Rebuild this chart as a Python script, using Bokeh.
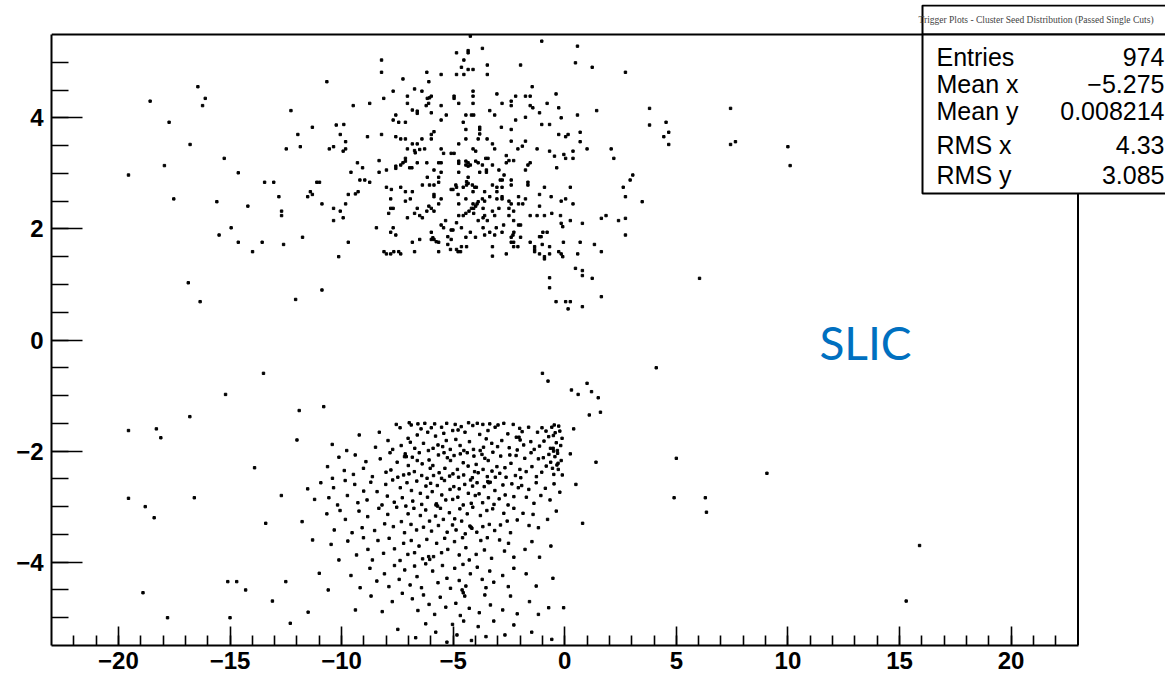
from bokeh.plotting import figure
from bokeh.models import FixedTicker, Label, BoxAnnotation, Range1d
from bokeh.embed import file_html
from bokeh.resources import INLINE

# ---- data (upper cluster) ----
top_pts = [
(-8.21,5.04),(-8.21,4.82),(-6.18,4.82),(-5.54,4.78),(-7.25,4.70),(-6.09,4.65),(-7.69,4.48),(-6.73,4.52),(-6.40,4.48),(-9.48,4.22),(-8.74,4.26),(-8.11,4.35),(-7.05,4.39),(-7.05,4.26),(-6.16,4.35),(-6.06,4.36),(-5.98,4.39),(-6.10,4.26),(-6.21,4.22),(-6.83,4.14),(-6.61,4.12),(-6.61,4.08),(-5.98,4.09),(-5.54,4.22),(-5.31,4.05),(-7.57,4.05),(-7.69,3.96),(-7.44,3.92),(-7.14,3.92),(-5.54,3.96),(-9.90,3.88),(-8.84,3.66),(-8.21,3.70),(-7.57,3.66),(-7.35,3.62),(-7.14,3.62),(-6.40,3.62),(-5.98,3.62),(-5.98,3.70),(-5.86,3.75),(-9.82,3.57),(-9.82,3.44),(-9.93,3.40),(-6.83,3.53),(-6.61,3.53),(-7.05,3.44),(-6.73,3.41),(-6.70,3.37),(-6.50,3.43),(-6.28,3.44),(-5.54,3.44),(-5.43,3.36),(-5.09,3.36),(-9.29,3.19),(-9.06,3.10),(-8.32,3.23),(-7.99,3.06),(-8.32,3.02),(-9.58,3.02),(-7.57,3.13),(-7.57,3.09),(-7.35,3.15),(-7.25,3.19),(-7.14,3.27),(-7.14,3.22),(-6.95,3.10),(-6.85,3.10),(-6.61,3.19),(-6.18,3.19),(-5.65,3.19),(-5.54,3.19),(-5.86,3.06),(-5.54,3.02),
(-4.23,5.47),(-1.03,5.38),(-4.85,5.17),(-4.33,5.21),(-4.33,5.17),(-3.69,5.25),(-4.52,5.04),(-4.63,4.91),(-4.33,4.87),(-4.11,4.87),(-3.47,4.95),(-4.85,4.78),(-4.52,4.78),(-3.47,4.78),(-1.98,4.95),(-1.46,4.56),(-4.96,4.39),(-4.96,4.35),(-4.11,4.48),(-4.11,4.39),(-4.75,4.26),(-4.11,4.26),(-3.04,4.43),(-2.20,4.39),(-1.76,4.39),(-1.55,4.39),(-0.39,4.43),(-2.40,4.30),(-2.40,4.22),(-2.81,4.26),(-1.55,4.22),(-1.43,4.18),(-0.79,4.26),(-0.27,4.18),(-3.36,4.13),(-3.14,4.05),(-4.43,4.05),(-4.18,4.05),(-4.08,4.05),(-1.13,4.09),(-1.76,4.01),(-2.20,3.96),(-0.16,4.00),(-4.55,3.92),(-3.81,3.83),(-3.81,3.79),(-3.81,3.71),(-4.43,3.79),(-2.84,3.83),(-2.40,3.79),(-1.03,3.88),(-0.68,3.88),(-0.27,3.70),(-4.43,3.62),(-3.88,3.62),(-3.48,3.62),(-4.75,3.53),(-3.24,3.53),(-2.40,3.58),(-1.76,3.58),(-1.90,3.49),(-2.10,3.44),(-3.14,3.44),(-4.11,3.44),(-3.99,3.40),(-1.24,3.44),(-0.68,3.40),(-4.96,3.36),(-0.46,3.31),(-2.62,3.32),(-3.54,3.27),(-3.44,3.27),(-4.75,3.22),(-4.75,3.18),(-4.43,3.22),(-4.33,3.19),(-4.23,3.15),(-4.43,3.15),(-4.33,3.13),(-3.99,3.22),(-3.88,3.19),(-3.69,3.15),(-3.24,3.15),(-2.62,3.19),(-2.50,3.23),(-2.29,3.23),(-1.55,3.19),(-1.65,3.15),(-1.76,3.06),(-0.36,3.10),(-3.51,3.06),(-3.51,3.02),(-3.81,3.02),(-4.75,3.02),(-2.95,3.06),(-0.04,3.34),
(-9.18,2.88),(-8.96,2.88),(-8.74,2.84),(-7.99,2.75),(-7.77,2.71),(-7.35,2.75),(-7.14,2.67),(-6.83,2.67),(-6.16,2.93),(-5.65,2.93),(-5.65,2.84),(-6.38,2.79),(-6.06,2.79),(-5.86,2.79),(-5.09,2.71),(-5.01,2.71),(-9.70,2.62),(-9.38,2.63),(-9.26,2.67),(-5.86,2.62),(-5.86,2.58),(-5.54,2.54),(-7.80,2.54),(-7.14,2.50),(-6.92,2.54),(-5.65,2.45),(-9.82,2.45),(-7.80,2.37),(-7.69,2.37),(-7.89,2.28),(-6.61,2.37),(-6.09,2.41),(-5.98,2.37),(-6.18,2.32),(-5.86,2.32),(-6.73,2.28),(-6.50,2.24),(-6.38,2.20),(-7.05,2.20),(-9.93,2.20),(-5.34,2.15),(-5.54,2.07),(-5.43,2.02),(-5.09,1.98),(-5.01,1.98),(-8.44,2.02),(-7.69,2.02),(-7.80,1.94),(-7.57,1.89),(-5.98,1.94),(-5.91,1.84),(-5.86,1.81),(-5.76,1.77),(-5.65,1.76),(-5.98,1.81),(-5.24,1.86),(-5.09,1.81),(-5.24,1.72),(-5.12,1.63),(-6.83,1.76),(-6.50,1.81),(-9.70,1.76),(-6.73,1.59),(-5.65,1.59),(-8.10,1.59),(-7.99,1.55),(-7.80,1.55),(-7.66,1.59),(-7.44,1.59),(-7.35,1.55),
(-4.33,2.93),(-2.72,2.97),(-2.89,2.88),(-2.80,2.88),(-2.40,2.88),(-2.40,2.79),(-1.65,2.84),(-1.65,2.79),(-4.88,2.79),(-4.85,2.75),(-4.55,2.75),(-4.40,2.85),(-4.33,2.82),(-4.40,2.79),(-4.14,2.79),(-4.03,2.75),(-3.96,2.75),(-3.24,2.79),(-3.04,2.75),(-2.81,2.75),(-0.91,2.75),(-4.78,2.62),(-4.11,2.67),(-3.59,2.67),(-3.04,2.67),(-1.13,2.62),(-0.61,2.58),(-4.43,2.54),(-3.69,2.54),(-3.59,2.50),(-3.36,2.58),(-3.04,2.54),(-2.81,2.58),(-2.81,2.54),(-2.50,2.50),(-2.40,2.45),(-2.07,2.58),(-1.76,2.54),(-2.07,2.45),(-1.88,2.45),(-0.16,2.50),(-4.75,2.45),(-4.11,2.45),(-3.99,2.41),(-4.18,2.37),(-4.08,2.37),(-3.93,2.45),(-3.88,2.49),(-4.29,2.32),(-4.08,2.28),(-3.66,2.37),(-3.24,2.32),(-2.95,2.37),(-2.50,2.37),(-2.29,2.32),(-1.13,2.41),(-4.75,2.24),(-4.55,2.24),(-4.43,2.28),(-3.59,2.24),(-3.66,2.20),(-3.14,2.24),(-2.50,2.24),(-1.55,2.24),(-1.24,2.24),(-0.91,2.24),(-0.58,2.28),(-0.19,2.24),(-3.88,2.15),(-3.47,2.15),(-2.29,2.15),(-4.85,2.11),(-0.16,2.10),(-2.07,2.07),(-1.98,2.07),(-2.74,2.07),(-4.63,2.02),(-3.66,2.02),(-3.07,2.02),(-0.09,2.04),(-4.23,1.94),(-3.36,1.94),(-2.81,1.94),(-3.59,1.89),(-3.14,1.89),(-2.28,1.94),(-2.32,1.89),(-0.98,1.94),(-0.79,1.94),(-1.06,1.86),(-1.13,1.86),(-4.43,1.85),(-4.00,1.85),(-2.40,1.85),(-1.98,1.85),(-0.06,1.76),(-2.40,1.76),(-2.29,1.76),(-1.55,1.76),(-1.01,1.72),(-4.63,1.68),(-4.40,1.68),(-3.24,1.68),(-2.29,1.68),(-2.10,1.68),(-0.68,1.68),(-1.35,1.68),(-1.35,1.63),(-1.35,1.59),(-0.27,1.59),(-0.16,1.55),(-0.09,1.50),(-4.85,1.63),(-4.78,1.59),(-4.67,1.59),(-1.13,1.55),(-0.91,1.50),(-0.91,1.46),(-0.68,1.55),(-3.24,1.51),(-2.62,1.55),(-0.68,1.12),(-0.68,0.94),(-0.39,0.69),
(-16.44,4.56),(-16.11,4.35),(-16.23,4.22),(-18.58,4.30),(-10.66,4.65),(-17.73,3.92),(-12.27,4.13),(-11.31,3.83),(-10.24,3.87),(-10.06,3.70),(-11.96,3.70),(-11.85,3.48),(-12.48,3.44),(-10.55,3.44),(-10.36,3.48),(-16.79,3.52),(-15.26,3.27),(-17.94,3.14),(-19.55,2.97),(-14.63,3.01),(-13.45,2.84),(-13.04,2.84),(-11.11,2.84),(-10.99,2.84),(-11.40,2.67),(-11.31,2.62),(-11.52,2.58),(-12.81,2.58),(-10.88,2.45),(-10.36,2.37),(-10.06,2.32),(-10.36,2.15),(-12.69,2.32),(-12.69,2.24),(-14.20,2.41),(-15.59,2.49),(-17.52,2.54),(-14.95,2.02),(-15.49,1.89),(-14.63,1.76),(-13.56,1.76),(-12.60,1.72),(-11.75,1.85),(-13.99,1.59),(-10.13,1.50),(-16.87,1.03),(-16.34,0.69),(-12.06,0.73),(-10.88,0.90),
(0.57,5.29),(0.48,4.99),(1.23,4.91),(2.72,4.82),(0.57,4.05),(1.43,4.13),(3.80,4.17),(7.43,4.17),(3.80,3.87),(4.54,3.92),(4.66,3.74),(4.44,3.66),(4.66,3.52),(7.43,3.52),(7.65,3.57),(10.0,3.48),(10.10,3.14),(0.15,3.70),(0.04,3.66),(0.69,3.74),(0.69,3.57),(0.37,3.40),(1.00,3.44),(2.08,3.44),(0.04,3.27),(0.37,3.27),(2.20,3.27),(3.05,2.97),(2.93,2.88),(2.62,2.75),(2.72,2.58),(3.47,2.49),(0.25,2.75),(0.04,2.54),(0.37,2.45),(0.25,2.15),(0.79,2.10),(1.64,2.19),(1.85,2.24),(2.41,2.15),(2.72,2.19),(2.72,1.89),(0.69,1.76),(1.33,1.72),(1.64,1.59),(0.58,1.55),(0.48,1.29),(0.79,1.25),(0.79,1.16),(1.23,1.11),(6.04,1.11),(1.64,0.78),(0.04,0.69),(0.25,0.69),(0.15,0.56),(0.79,0.60),
]

# ---- data (lower cluster, estimated) ----
bot_pts = [
(-10.42,-1.88),(-9.21,-1.71),(-9.77,-1.99),(-8.48,-1.93),(-8.31,-1.66),
(-7.92,-1.81),(-7.71,-1.97),(-7.38,-1.58),(-7.33,-1.9),(-7.02,-1.77),(-7.55,-1.52),
(-6.97,-1.49),(-6.88,-1.53),(-6.61,-1.71),(-6.58,-1.51),(-6.33,-1.86),(-6.27,-1.5),(-6.14,-1.66),(-6.11,-1.99),(-6.72,-1.95),(-6.92,-1.84),(-6.44,-1.6),
(-5.98,-1.58),(-5.83,-1.51),(-5.79,-1.73),(-5.52,-1.57),(-5.47,-1.92),(-5.29,-1.5),(-5.31,-1.81),(-5.02,-1.63),(-5.13,-1.97),(-5.68,-1.89),(-5.42,-1.68),(-5.9,-1.95),
(-4.91,-1.52),(-4.88,-1.79),(-4.64,-1.56),(-4.69,-1.9),(-4.47,-1.66),(-4.31,-1.49),(-4.27,-1.83),(-4.12,-1.54),(-4.09,-1.97),(-4.52,-1.99),(-4.78,-1.62),
(-3.92,-1.5),(-3.81,-1.7),(-3.67,-1.52),(-3.64,-1.93),(-3.44,-1.63),(-3.36,-1.51),(-3.27,-1.86),(-3.12,-1.57),(-3.01,-1.92),(-3.79,-1.99),(-3.52,-1.78),
(-2.99,-1.53),(-2.82,-1.81),(-2.73,-1.5),(-2.55,-1.69),(-2.49,-1.94),(-2.31,-1.52),(-2.17,-1.75),(-2.13,-1.98),(-2.02,-1.59),(-2.05,-1.75),(-2.0,-1.8),
(-1.91,-1.65),(-1.84,-1.89),(-1.62,-1.57),(-1.52,-1.83),(-1.37,-1.97),(-1.22,-1.66),(-1.13,-1.91),(-1.02,-1.58),
(-0.93,-1.82),(-0.84,-1.64),(-0.72,-1.74),(-0.64,-1.95),(-0.51,-1.72),(-0.47,-1.53),(-0.38,-1.85),(-0.33,-1.99),(-0.22,-1.64),(-0.18,-1.9),(-0.12,-1.77),(-0.58,-1.57),(-0.27,-1.55),(-0.43,-1.67),(-0.52,-1.95),(-0.5,-2.0),
(-10.63,-2.28),(-10.41,-2.49),(-10.12,-2.11),(-9.88,-2.35),(-9.47,-2.42),(-9.39,-2.07),(-9.02,-2.31),(-8.91,-2.19),(-8.62,-2.46),(-8.27,-2.14),(-8.01,-2.38),
(-7.83,-2.03),(-7.79,-2.34),(-7.48,-2.47),(-7.51,-2.2),(-7.22,-2.43),(-7.18,-2.1),(-7.01,-2.26),(-7.15,-2.05),(-7.1,-2.1),
(-6.98,-2.41),(-6.83,-2.11),(-6.74,-2.37),(-6.52,-2.03),(-6.41,-2.44),(-6.39,-2.23),(-6.17,-2.49),(-6.08,-2.16),(-6.03,-2.31),(-6.61,-2.17),
(-5.91,-2.26),(-5.88,-2.44),(-5.66,-2.07),(-5.63,-2.39),(-5.41,-2.03),(-5.37,-2.31),(-5.16,-2.45),(-5.12,-2.17),(-5.01,-2.41),(-5.52,-2.49),(-5.26,-2.12),
(-4.96,-2.08),(-4.81,-2.33),(-4.76,-2.47),(-4.55,-2.21),(-4.53,-2.43),(-4.37,-2.03),(-4.33,-2.27),(-4.14,-2.48),(-4.07,-2.09),(-4.04,-2.37),(-4.68,-2.05),(-4.22,-2.52),
(-3.97,-2.24),(-3.88,-2.39),(-3.71,-2.06),(-3.66,-2.33),(-3.47,-2.46),(-3.43,-2.17),(-3.26,-2.36),(-3.22,-2.02),(-3.04,-2.28),(-3.58,-2.13),(-3.11,-2.47),
(-2.91,-2.4),(-2.87,-2.09),(-2.68,-2.3),(-2.63,-2.47),(-2.46,-2.07),(-2.41,-2.22),(-2.21,-2.44),(-2.18,-2.08),(-2.01,-2.33),
(-1.97,-2.48),(-1.79,-2.13),(-1.73,-2.37),(-1.51,-2.03),(-1.47,-2.28),(-1.27,-2.46),(-1.18,-2.14),(-1.03,-2.38),
(-0.96,-2.12),(-0.83,-2.27),(-0.71,-2.06),(-0.63,-2.2),(-0.49,-2.42),(-0.44,-2.1),(-0.32,-2.04),(-0.29,-2.33),(-0.16,-2.17),(-0.11,-2.43),(-0.55,-2.31),(-0.35,-2.25),(-0.3,-2.22),
(-11.52,-2.68),(-11.21,-2.87),(-10.93,-2.57),(-10.57,-2.84),(-10.36,-2.66),(-10.18,-2.97),(-9.84,-2.53),(-9.74,-2.8),(-9.41,-2.6),(-9.27,-2.93),(-9.01,-2.72),
(-8.86,-2.88),(-8.69,-2.56),(-8.41,-2.73),(-8.19,-2.97),(-8.02,-2.6),(-7.95,-2.81),(-7.71,-2.52),(-7.64,-2.92),(-7.37,-2.66),(-7.28,-2.84),(-7.07,-2.57),(-7.12,-2.99),
(-6.87,-2.71),(-6.81,-2.9),(-6.63,-2.54),(-6.47,-2.76),(-6.41,-2.96),(-6.22,-2.63),(-6.15,-2.83),(-6.01,-2.58),
(-5.94,-2.73),(-5.77,-2.97),(-5.71,-2.62),(-5.51,-2.79),(-5.39,-2.53),(-5.33,-2.88),(-5.14,-2.69),(-5.02,-2.87),(-5.75,-2.95),(-5.7,-2.99),
(-4.97,-2.64),(-4.79,-2.83),(-4.73,-2.68),(-4.55,-2.97),(-4.48,-2.6),(-4.32,-2.76),(-4.19,-2.94),(-4.13,-2.63),(-4.01,-2.8),
(-3.93,-2.57),(-3.84,-2.77),(-3.68,-2.93),(-3.61,-2.64),(-3.42,-2.84),(-3.34,-2.56),(-3.17,-2.96),(-3.13,-2.71),(-3.45,-2.55),(-3.4,-2.57),
(-2.94,-2.86),(-2.77,-2.61),(-2.67,-2.79),(-2.54,-2.97),(-2.37,-2.59),(-2.28,-2.82),(-2.08,-2.66),
(-1.93,-2.62),(-1.72,-2.83),(-1.61,-2.69),(-1.38,-2.94),(-1.28,-2.57),(-1.07,-2.8),(-0.87,-2.67),(-0.66,-2.88),(-0.48,-2.59),(-0.22,-2.74),
(-11.77,-3.27),(-10.66,-3.13),(-10.33,-3.42),(-10.07,-3.07),(-9.83,-3.23),(-9.53,-3.47),(-9.22,-3.08),(-9.08,-3.38),(-8.83,-3.18),(-8.52,-3.43),(-8.33,-3.03),(-8.07,-3.31),
(-7.93,-3.14),(-7.68,-3.36),(-7.53,-3.01),(-7.32,-3.27),(-7.18,-3.47),(-7.02,-3.13),
(-6.89,-3.32),(-6.76,-3.03),(-6.64,-3.42),(-6.47,-3.16),(-6.33,-3.37),(-6.23,-3.06),(-6.06,-3.26),
(-5.97,-3.44),(-5.79,-3.17),(-5.66,-3.34),(-5.57,-3.03),(-5.44,-3.23),(-5.27,-3.46),(-5.17,-3.11),(-5.03,-3.33),
(-4.93,-3.22),(-4.87,-3.42),(-4.7,-3.04),(-4.62,-3.26),(-4.46,-3.49),(-4.37,-3.13),(-4.2,-3.37),(-4.12,-3.01),(-4.25,-3.35),(-4.16,-3.39),
(-3.94,-3.46),(-3.78,-3.16),(-3.67,-3.36),(-3.49,-3.07),(-3.38,-3.32),(-3.23,-3.04),(-3.14,-3.43),
(-2.88,-3.33),(-2.73,-3.12),(-2.58,-3.26),(-2.43,-3.47),(-2.28,-3.03),(-2.13,-3.24),
(-1.87,-3.12),(-1.6,-3.34),(-1.42,-3.14),(-1.18,-3.38),(-0.77,-3.23),(-0.38,-3.08),
(-10.47,-3.68),(-10.12,-3.96),(-9.72,-3.62),(-9.33,-3.87),(-9.02,-3.56),(-8.82,-3.77),(-8.62,-3.96),(-8.37,-3.61),(-8.12,-3.84),
(-7.87,-3.57),(-7.63,-3.76),(-7.38,-3.97),(-7.22,-3.66),(-7.03,-3.86),(-6.88,-3.61),(-6.73,-3.83),(-6.53,-3.71),(-6.37,-3.94),(-6.18,-3.59),(-6.1,-3.9),(-6.05,-3.95),
(-5.88,-3.9),(-5.74,-3.66),(-5.52,-3.83),(-5.38,-3.57),(-5.24,-3.77),(-4.94,-3.63),(-4.73,-3.87),(-4.58,-3.56),(-4.43,-3.74),(-4.28,-3.96),
(-3.97,-3.86),(-3.76,-3.61),(-3.6,-3.78),(-3.47,-3.56),(-3.28,-3.93),(-2.92,-3.6),(-2.7,-3.8),(-2.52,-3.66),(-2.28,-3.91),
(-1.78,-3.77),(-1.47,-3.63),(-1.13,-3.91),(-0.62,-3.71),
(-9.58,-4.24),(-9.17,-4.46),(-8.73,-4.11),(-8.42,-4.34),(-8.08,-4.21),(-7.88,-4.44),(-7.63,-4.06),(-7.42,-4.31),(-7.17,-4.14),
(-6.93,-4.41),(-6.73,-4.07),(-6.62,-4.26),(-6.42,-4.46),(-6.23,-4.03),(-5.92,-4.16),(-5.68,-4.37),(-5.48,-4.06),(-5.28,-4.29),(-5.12,-4.47),
(-4.93,-4.11),(-4.73,-4.33),(-4.56,-4.04),(-4.43,-4.43),(-4.23,-4.21),(-4.6,-4.5),(-4.55,-4.55),(-3.92,-4.09),(-3.7,-4.31),(-3.53,-4.46),(-3.36,-4.16),(-3.18,-4.36),
(-2.78,-4.24),(-2.53,-4.44),(-2.28,-4.11),(-1.73,-4.21),(-1.28,-4.43),(-0.53,-4.29),
(-9.38,-4.86),(-8.68,-4.61),(-8.18,-4.89),(-7.73,-4.71),(-7.28,-4.56),(-6.83,-4.66),(-6.58,-4.87),(-6.33,-4.59),(-6.08,-4.76),
(-5.83,-4.94),(-5.58,-4.63),(-5.33,-4.81),(-4.88,-4.74),(-4.68,-4.96),(-4.48,-4.61),(-4.28,-4.83),(-3.83,-4.91),(-3.58,-4.59),(-3.33,-4.77),
(-2.78,-4.86),(-2.43,-4.61),(-2.13,-4.93),(-1.58,-4.71),(-1.18,-4.94),(-0.72,-4.82),(-0.05,-4.82),
(-7.48,-5.21),(-6.68,-5.36),(-6.23,-5.11),(-5.78,-5.26),(-5.28,-5.44),(-5.03,-5.12),(-4.83,-5.31),(-4.53,-5.06),(-4.18,-5.41),
(-3.88,-5.16),(-3.53,-5.34),(-3.18,-5.06),(-2.68,-5.31),(-2.28,-5.13),(-1.48,-5.26),(-0.58,-5.39),
(-19.55,-1.63),(-18.3,-1.6),(-18.1,-1.76),(-16.8,-1.38),(-19.55,-2.85),(-18.8,-3.0),(-18.4,-3.2),(-16.6,-2.84),(-18.9,-4.55),(-17.8,-5.0),
(-15.1,-4.35),(-14.7,-4.35),(-14.3,-4.5),(-15.0,-5.0),(-15.2,-0.98),(-13.5,-0.6),(-13.9,-2.3),(-13.4,-3.3),(-12.7,-2.8),(-12.5,-4.35),
(-13.1,-4.7),(-12.3,-5.1),(-11.9,-1.27),(-10.8,-1.2),(-11.3,-3.6),(-12.0,-1.8),(-11.0,-4.2),(-11.5,-4.9),(-10.6,-4.5),
(-1.0,-0.6),(-0.75,-0.74),(0.3,-0.9),(0.6,-0.98),(1.0,-0.78),(1.2,-0.93),(1.5,-1.04),(1.6,-1.3),(1.1,-1.35),(4.1,-0.5),
(5.0,-2.13),(4.9,-2.84),(6.3,-2.84),(6.35,-3.1),(9.06,-2.4),(15.9,-3.7),(15.3,-4.7),(0.4,-1.6),(0.25,-2.05),(0.5,-2.6),(1.4,-2.2),(0.8,-3.3),
]

top_x = [p_[0] for p_ in top_pts]
top_y = [p_[1] for p_ in top_pts]
bot_x = [p_[0] for p_ in bot_pts]
bot_y = [p_[1] for p_ in bot_pts]

x_lo, x_hi = -23, 23
y_lo, y_hi = -5.5, 5.5
x_major = [-20, -15, -10, -5, 0, 5, 10, 15, 20]
x_minor = list(range(-22, 23))
y_major = [-4, -2, 0, 2, 4]
y_minor = [i * 0.5 for i in range(-10, 11)]

stat_names = ["Entries", "Mean x", "Mean y", "RMS x", "RMS y"]
stat_values = ["974", "\u22125.275", "0.008214", "4.33", "3.085"]
hist_title = "Trigger Plots - Cluster Seed Distribution (Passed Single Cuts)"
note_text = "SLIC"

def lab(v):
    return ("\u2212" + str(abs(v))) if v < 0 else str(v)

# ---- geometry (canvas pixels) ----
W, H = 1165, 680
FL, FR, FT, FB = 51, 1077.5, 34, 645      # the ROOT frame
CT = 4                                     # top of the drawing area
ppx = (FR - FL) / (x_hi - x_lo)
ppy = (FB - FT) / (y_hi - y_lo)
xr_hi = x_hi + (W - FR) / ppx
yr_hi = y_hi + (FT - CT) / ppy

def sx(cx):  # canvas x -> frame-relative screen x
    return cx - FL

def sy(cy):  # canvas y -> frame-relative screen y (from bottom)
    return FB - cy

p = figure(width=W, height=H, x_range=Range1d(x_lo, xr_hi), y_range=Range1d(y_lo, yr_hi),
           output_backend="svg", toolbar_location=None,
           min_border_left=FL, min_border_right=0, min_border_top=CT, min_border_bottom=H - FB)
p.grid.visible = False
p.background_fill_color = "white"
p.border_fill_color = "white"
p.outline_line_color = None

xa = p.xaxis[0]
xa.bounds = (x_lo, x_hi)
xa.ticker = FixedTicker(ticks=x_major, minor_ticks=x_minor)
xa.major_label_overrides = {v: lab(v) for v in x_major}
xa.axis_line_width = 2
xa.major_tick_in = 19
xa.major_tick_out = 0
xa.minor_tick_in = 10
xa.minor_tick_out = 0
xa.major_tick_line_width = 1.6
xa.minor_tick_line_width = 1.6
xa.major_label_text_font = "Liberation Sans"
xa.major_label_text_font_style = "bold"
xa.major_label_text_font_size = "24px"
xa.major_label_text_color = "black"
xa.major_label_standoff = 6

ya = p.yaxis[0]
ya.bounds = (y_lo, y_hi)
ya.ticker = FixedTicker(ticks=y_major, minor_ticks=y_minor)
ya.major_label_overrides = {v: lab(v) for v in y_major}
ya.axis_line_width = 2
ya.major_tick_in = 31
ya.major_tick_out = 0
ya.minor_tick_in = 17
ya.minor_tick_out = 0
ya.major_tick_line_width = 1.6
ya.minor_tick_line_width = 1.6
ya.major_label_text_font = "Liberation Sans"
ya.major_label_text_font_style = "bold"
ya.major_label_text_font_size = "24px"
ya.major_label_text_color = "black"
ya.major_label_standoff = 8

# top and right sides of the frame
p.segment(x0=[x_lo, x_hi], y0=[y_hi, y_lo], x1=[x_hi, x_hi], y1=[y_hi, y_hi],
          line_color="black", line_width=2)

p.scatter(top_x, top_y, marker="square", size=2.4, color="black")
p.scatter(bot_x, bot_y, marker="square", size=2.4, color="black")

# SLIC note
p.add_layout(Label(x=sx(865), y=sy(342), x_units="screen", y_units="screen", text=note_text,
                   text_font="Lato", text_font_size="46px", text_color="#0070C0",
                   text_align="center", text_baseline="middle"))

# title box and stats box
def box(l, r, t, b):
    return BoxAnnotation(left=sx(l), right=sx(r), top=sy(t), bottom=sy(b),
                         left_units="screen", right_units="screen", top_units="screen", bottom_units="screen",
                         fill_color="white", fill_alpha=1, line_color="black", line_alpha=1,
                         line_width=2, level="overlay")

p.add_layout(box(922, 1200, 5, 34))
p.add_layout(box(922, 1200, 34, 193))
p.add_layout(Label(x=sx(918), y=sy(19), x_units="screen", y_units="screen", text=hist_title,
                   text_font="Liberation Serif", text_font_size="9.5px", text_color="#444444",
                   text_baseline="middle", level="overlay"))
row_y = [56, 83, 110, 144, 174]
for name, val, cy in zip(stat_names, stat_values, row_y):
    p.add_layout(Label(x=sx(936), y=sy(cy), x_units="screen", y_units="screen", text=name,
                       text_font="Liberation Sans", text_font_size="25px", text_color="black",
                       text_baseline="middle", level="overlay"))
    p.add_layout(Label(x=sx(1164), y=sy(cy), x_units="screen", y_units="screen", text=val,
                       text_font="Liberation Sans", text_font_size="25px", text_color="black",
                       text_align="right", text_baseline="middle", level="overlay"))

open("out.html", "w").write(file_html(p, INLINE))
